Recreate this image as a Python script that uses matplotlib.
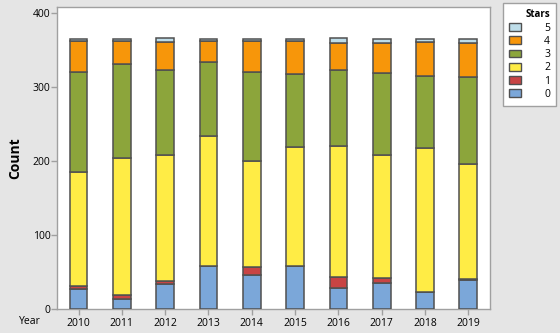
import matplotlib
matplotlib.use("Agg")
import matplotlib.pyplot as plt
from matplotlib.patches import Patch

plt.rcParams['font.family'] = ['Open Sans', 'DejaVu Sans']

years = ["2010", "2011", "2012", "2013", "2014", "2015", "2016", "2017", "2018", "2019"]
stars = ["0", "1", "2", "3", "4", "5"]
s0 = [28, 14, 34, 58, 46, 58, 29, 35, 23, 39]
s1 = [4, 5, 4, 0, 11, 1, 14, 7, 1, 2]
s2 = [154, 186, 170, 176, 144, 160, 177, 166, 194, 155]
s3 = [134, 127, 116, 100, 120, 99, 103, 111, 97, 118]
s4 = [43, 30, 37, 29, 42, 44, 37, 41, 46, 46]
s5 = [2, 3, 5, 2, 2, 3, 6, 5, 4, 5]
series = [s0, s1, s2, s3, s4, s5]
colors = ["#7ba7d9", "#c84444", "#ffec45", "#8ca53b", "#f7960a", "#bedde9"]
edge = "#505050"

fig = plt.figure(figsize=(5.6, 3.33), dpi=100, facecolor="#e5e5e5")
ax = fig.add_axes([57.3/560, 1-309.3/333, (490-57.3)/560, (309.3-7)/333])
ax.set_facecolor("white")

x = list(range(len(years)))
bottom = [0]*len(years)
for vals, c in zip(series, colors):
    ax.bar(x, vals, width=0.41, bottom=bottom, color=c, edgecolor=edge, linewidth=1.1, zorder=3)
    bottom = [b + v for b, v in zip(bottom, vals)]

ax.set_xlim(-0.49, 9.5)
ax.set_ylim(0, 408.5)
ax.set_xticks(x)
ax.set_xticklabels(years)
ax.set_yticks([0, 100, 200, 300, 400])
for sp in ax.spines.values():
    sp.set_color("#a0a0a0")
    sp.set_linewidth(1.0)
ax.tick_params(axis="both", colors="#a0a0a0", labelcolor="black", labelsize=7.5, length=4, width=1)
ax.tick_params(axis="x", pad=2)
ax.tick_params(axis="y", pad=1)

fig.text(30/560, 1-321/333, "Year", ha="center", va="center", fontsize=7.5)
fig.text(15/560, 1-158/333, "Count", ha="center", va="center", rotation=90, fontsize=10, fontweight="bold")

handles = [Patch(facecolor=c, edgecolor=edge, linewidth=1.0) for c in colors][::-1]
labels = stars[::-1]
leg = fig.legend(handles, labels, loc="upper left", bbox_to_anchor=(503/560, 1-3/333),
                 title="Stars", fontsize=7.5, title_fontproperties={"size": 7, "weight": "bold"},
                 frameon=True, fancybox=False, edgecolor="#a0a0a0", framealpha=1,
                 handlelength=1.15, handleheight=0.8, handletextpad=2.2, labelspacing=0.22,
                 borderpad=0.6, borderaxespad=0, alignment="right", markerfirst=True)
leg.get_frame().set_linewidth(1.0)

fig.savefig("out.png", dpi=100, facecolor=fig.get_facecolor())
